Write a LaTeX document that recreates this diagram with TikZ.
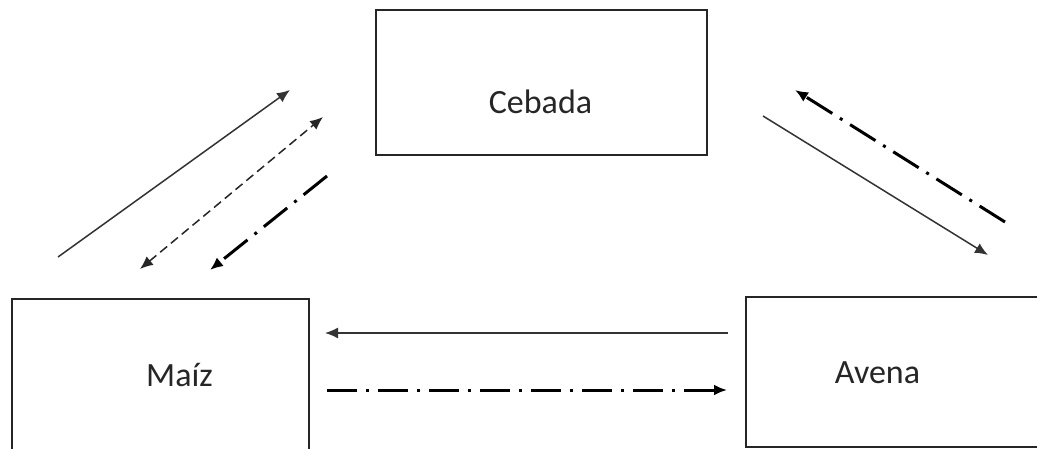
\documentclass[tikz,border=0pt]{standalone}
\usepackage{fontspec}
\setmainfont{Carlito}
\usetikzlibrary{arrows.meta}
\begin{document}
\begin{tikzpicture}[x=1pt,y=-1pt,
  box/.style={draw=black!85,line width=1.6pt,rectangle,inner sep=0pt},
  openbox/.style={rectangle,inner sep=0pt},
  edge/.style={draw=black!85,line width=1.6pt,line join=miter},
  lbl/.style={anchor=base,inner sep=0pt,font=\fontsize{34}{40}\selectfont,text=black!85},
  tip/.style={-{Latex[length=13pt,width=11pt]}},
  solidarrow/.style={draw=black!80,line width=1.5pt},
  dashedarrow/.style={draw=black!85,line width=1.5pt,dash pattern=on 9pt off 5pt},
  dotdash/.style={draw=black,line width=3pt,dash pattern=on 30pt off 9pt on 3pt off 9pt}]
\useasboundingbox (0,0) rectangle (1037,449);
\clip (0,0) rectangle (1037,449);
\fill[white] (0,0) rectangle (1037,449);
% boxes
\node[box,minimum width=331pt,minimum height=145pt] (ceb) at (541.5,82.5) {};
\node[openbox,minimum width=297pt,minimum height=180pt] (mai) at (160.5,389) {};
\node[openbox,minimum width=400pt,minimum height=150pt] (ave) at (946,372) {};
\draw[edge] (mai.south west) -- (mai.north west) -- (mai.north east) -- (mai.south east);
\draw[edge] (ave.north east) -- (ave.north west) -- (ave.south west) -- (ave.south east);
% labels
\node[lbl] (tceb) at (540.5,114) {Cebada};
\node[lbl] (tmai) at (179.5,386) {Maíz};
\node[lbl] (tave) at (877.5,383) {Avena};
% endpoints
\coordinate (a1s) at (58,257);  \coordinate (a1e) at (290,90);
\coordinate (a2s) at (140,269); \coordinate (a2e) at (323,117);
\coordinate (a3s) at (327,176); \coordinate (a3e) at (210,270);
\coordinate (a4s) at (1005,222); \coordinate (a4e) at (795,90);
\coordinate (a5s) at (763,116); \coordinate (a5e) at (988,255);
\coordinate (a6s) at (728,333); \coordinate (a6e) at (325,333);
\coordinate (a7s) at (327,390); \coordinate (a7e) at (727,390);
% connectors
\draw[solidarrow,tip] (a1s) -- (a1e);
\draw[dashedarrow,{Latex[length=13pt,width=11pt]}-{Latex[length=13pt,width=11pt]}] (a2s) -- (a2e);
\draw[dotdash,tip] (a3s) -- (a3e);
\draw[dotdash,tip] (a4s) -- (a4e);
\draw[solidarrow,tip] (a5s) -- (a5e);
\draw[solidarrow,tip] (a6s) -- (a6e);
\draw[dotdash,tip] (a7s) -- (a7e);
\end{tikzpicture}
\end{document}
